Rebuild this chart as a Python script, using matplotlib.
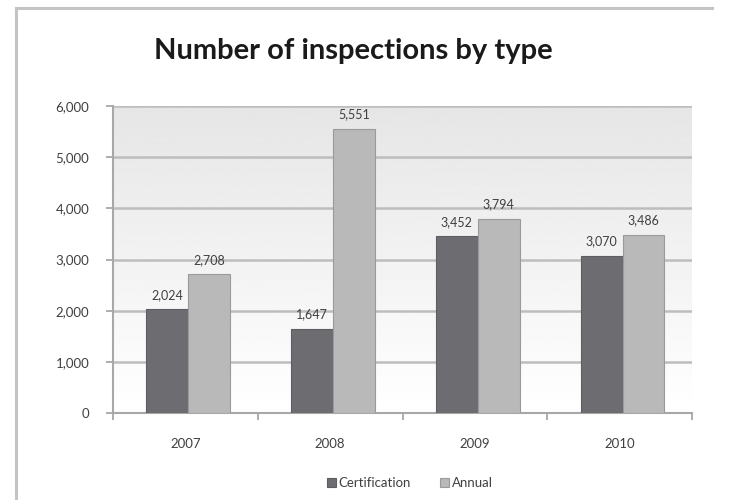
import numpy as np
import matplotlib.pyplot as plt
from matplotlib.lines import Line2D

# data
years = ['2007', '2008', '2009', '2010']
certification = [2024, 1647, 3452, 3070]
annual = [2708, 5551, 3794, 3486]

plt.rcParams['font.family'] = ['Lato', 'DejaVu Sans']

fig = plt.figure(figsize=(7.38, 5.0), dpi=100)
ax = fig.add_axes([113/738, 1-413/500, (692-113)/738, (413-106)/500])

# outer frame of the chart: only top and left edges are visible
fx, fy = 16/738, 1 - 8/500
fig.add_artist(Line2D([fx, 712/738], [fy, fy], transform=fig.transFigure, color='#c4c4c4', lw=2.2))
fig.add_artist(Line2D([fx, fx], [0, fy], transform=fig.transFigure, color='#c4c4c4', lw=2.2))

x = np.arange(len(years))
w = 0.29

# gradient plot-area background, gray at top fading to white
grad = np.linspace(1.0, 0.90, 256).reshape(-1, 1)
ax.imshow(grad, cmap='gray', vmin=0, vmax=1, aspect='auto', origin='lower',
          extent=[-0.5, 3.5, 0, 6000], zorder=0)
ax.set_xlim(-0.5, 3.5)
ax.set_ylim(0, 6000)

b1 = ax.bar(x - w/2 + 0.02, certification, w, color='#6d6d71', edgecolor='#5e5e62', lw=0.8, zorder=3)
b2 = ax.bar(x + w/2 + 0.02, annual, w, color='#b9b9b9', edgecolor='#9a9a9a', lw=0.8, zorder=3)

for bars in (b1, b2):
    ax.bar_label(bars, labels=[f'{v:,}' for v in bars.datavalues], padding=6,
                 fontsize=9, color='#404040', zorder=4)

ax.set_yticks(range(0, 6001, 1000))
ax.set_yticklabels([f'{v:,}' for v in range(0, 6001, 1000)])
ax.set_xticks(x)
ax.set_xticklabels(years)
ax.set_xticks(np.arange(-0.5, 4, 1), minor=True)
ax.tick_params(axis='x', which='major', length=0, pad=18, labelsize=9.5, labelcolor='#404040')
ax.tick_params(axis='x', which='minor', length=5, color='#a0a0a0', width=1.2)
ax.tick_params(axis='y', length=5, color='#a0a0a0', width=1.2, pad=12, labelsize=9.5, labelcolor='#404040')

ax.grid(axis='y', color='#bdbdbd', lw=1.8, zorder=1)
ax.set_axisbelow(True)
for s in ('top', 'right'):
    ax.spines[s].set_visible(False)
for s in ('left', 'bottom'):
    ax.spines[s].set_color('#a8a8a8')
    ax.spines[s].set_linewidth(1.5)

fig.text(353/738, 1-51/500, 'Number of inspections by type', ha='center', va='center',
         fontsize=21, fontweight='bold', color='#1a1a1a')

fig.legend([b1, b2], ['Certification', 'Annual'], loc='center', bbox_to_anchor=(410/738, 1-483/500),
           ncol=2, frameon=False, fontsize=9.5, handlelength=0.7, handleheight=0.7,
           handletextpad=0.2, columnspacing=2.2, labelcolor='#404040')

fig.savefig('out.png', dpi=100)
